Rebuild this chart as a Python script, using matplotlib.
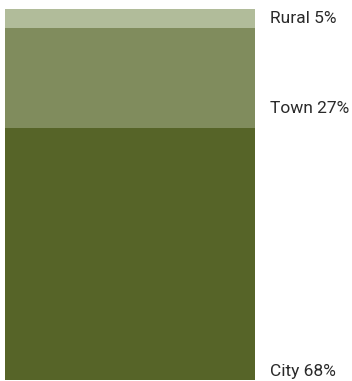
import matplotlib.pyplot as plt

# Share of population by settlement type (top to bottom)
categories = ['Rural', 'Town', 'City']
shares = [5, 27, 68]
colors = ['#b1bc9a', '#808c5d', '#566428']

W, H = 352, 381
fig = plt.figure(figsize=(W / 100, H / 100), dpi=100)
ax = fig.add_axes([5 / W, 1 / H, 250 / W, 371 / H])

bottom = 0
bottoms = []
for cat, val, col in zip(categories, shares, colors):
    ax.bar(0, val, bottom=bottom, width=1, color=col, linewidth=0)
    bottom += val
    bottoms.append(bottom)

ax.set_xlim(-0.5, 0.5)
ax.set_ylim(sum(shares), 0)
ax.axis('off')

# labels sit near the lower edge of each segment
offsets = [2, 12, 1]  # pixels above the segment edge
for cat, val, b, off in zip(categories, shares, bottoms, offsets):
    ax.annotate(f'{cat} {val}%', xy=(1, b), xycoords=('axes fraction', 'data'),
                xytext=(15, off), textcoords='offset pixels',
                ha='left', va='bottom', fontsize=12.5, family='Roboto',
                color='#2a2a2a', annotation_clip=False)

fig.savefig('out.png', dpi=100)
